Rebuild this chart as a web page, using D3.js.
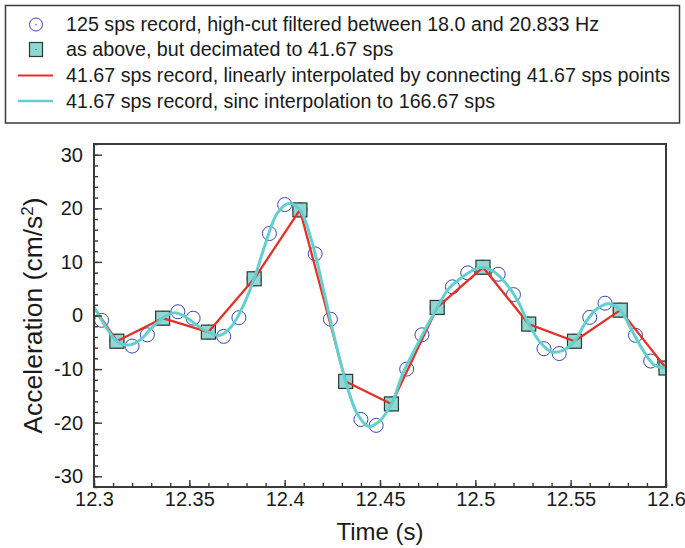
<!DOCTYPE html>
<html>
<head>
<meta charset="utf-8">
<script src="https://cdn.jsdelivr.net/npm/d3@7"></script>
<style>
  html, body { margin: 0; padding: 0; background: #fff; }
  svg { display: block; font-family: "Liberation Sans", Arial, Helvetica, sans-serif; }
</style>
</head>
<body>
<svg id="chart" width="685" height="548"></svg>
<script>
// 125 sps record, high-cut filtered (samples every 0.008 s from 12.304 s)
const rawTimes = d3.range(38).map(i => +(12.304 + 0.008 * i).toFixed(3));
const rawValues = [
  -0.9, -4.8, -5.7, -3.6, -0.5, 0.7, -0.5, -3.1, -3.9, -0.4,
  6.85, 15.3, 20.7, 19.7, 11.5, -0.7, -12.3, -19.4, -20.5, -16.5,
  -10.0, -3.6, 1.5, 5.35, 7.95, 9.0, 7.7, 3.9, -1.6, -6.2,
  -7.1, -4.8, -0.35, 2.3, 1.0, -3.7, -8.5, -9.8
];

// Same record decimated to 41.67 sps (every third sample)
const decTimes = [12.312, 12.336, 12.36, 12.384, 12.408, 12.432, 12.456,
                  12.48, 12.504, 12.528, 12.552, 12.576, 12.6];
const decValues = [-4.8, -0.5, -3.1, 6.85, 19.7, -12.3, -16.5,
                   1.5, 9.0, -1.6, -4.8, 1.0, -9.8];

// Preceding decimated sample, so the linear segment enters the frame at 12.3 s
const decLeadTime = 12.288;
const decLeadValue = 7.8;

// Sinc interpolation of the decimated record to 166.67 sps (0.006 s steps)
const sincTimes = d3.range(51).map(i => +(12.3 + 0.006 * i).toFixed(3));
const sincValues = [
  1.6, -2.0, -4.8, -5.5, -4.6, -2.4, -0.5, 0.5, -0.25, -1.8,
  -3.1, -3.7, -2.1, 1.6, 6.85, 13.5, 19.0, 20.9, 19.7, 14.1,
  5.35, -4.0, -12.3, -18.3, -20.7, -19.6, -16.5, -10.8, -6.5, -2.4,
  1.5, 5.0, 6.85, 8.3, 9.0, 8.1, 6.0, 2.9, -1.6, -5.0,
  -6.8, -6.5, -4.8, -1.2, 1.3, 2.2, 1.0, -2.7, -6.5, -9.3,
  -9.8
];

const xTicks = [12.3, 12.35, 12.4, 12.45, 12.5, 12.55, 12.6];
const xTickLabels = ["12.3", "12.35", "12.4", "12.45", "12.5", "12.55", "12.6"];
const yTicks = [-30, -20, -10, 0, 10, 20, 30];
const yTickLabels = ["-30", "-20", "-10", "0", "10", "20", "30"];

const legendLabels = [
  "125 sps record, high-cut filtered between 18.0 and 20.833 Hz",
  "as above, but decimated to 41.67 sps",
  "41.67 sps record, linearly interpolated by connecting 41.67 sps points",
  "41.67 sps record, sinc interpolation to 166.67 sps"
];

const C = {
  circle: "#3446b4",
  squareFill: "#8fd8d1",
  squareStroke: "#2c3836",
  red: "#e3312a",
  cyan: "#63d0cf",
  frame: "#3a3a3a",
  text: "#1a1a1a"
};

const svg = d3.select("#chart");
svg.append("rect").attr("width", 685).attr("height", 548).attr("fill", "#fff");

const plot = { left: 94, right: 666, top: 144, bottom: 487 };

const x = d3.scaleLinear().domain([12.3, 12.6]).range([plot.left, plot.right]);
const y = d3.scaleLinear().domain([-32, 32]).range([plot.bottom, plot.top]);

// ---- legend ----
const legend = svg.append("g");
legend.append("rect")
  .attr("x", 5.5).attr("y", 5.5).attr("width", 674).attr("height", 117.5)
  .attr("fill", "none").attr("stroke", C.frame).attr("stroke-width", 1.5);

const rowY = [24.5, 49.5, 75.5, 101];
const markX = 36;
legend.append("circle").attr("cx", markX).attr("cy", rowY[0]).attr("r", 6.5)
  .attr("fill", "none").attr("stroke", C.circle).attr("stroke-width", 1);
legend.append("circle").attr("cx", markX).attr("cy", rowY[0]).attr("r", 0.7).attr("fill", C.circle);
legend.append("rect").attr("x", markX - 6.5).attr("y", rowY[1] - 7).attr("width", 13).attr("height", 14)
  .attr("fill", C.squareFill).attr("stroke", C.squareStroke).attr("stroke-width", 1.2);
legend.append("circle").attr("cx", markX).attr("cy", rowY[1]).attr("r", 0.6).attr("fill", C.squareStroke);
legend.append("line").attr("x1", 18).attr("x2", 53).attr("y1", rowY[2]).attr("y2", rowY[2])
  .attr("stroke", C.red).attr("stroke-width", 2.2);
legend.append("line").attr("x1", 18).attr("x2", 53).attr("y1", rowY[3]).attr("y2", rowY[3])
  .attr("stroke", C.cyan).attr("stroke-width", 2.6);

legend.selectAll("text.leg").data(legendLabels).join("text")
  .attr("class", "leg")
  .attr("x", 66).attr("y", (d, i) => rowY[i])
  .attr("dy", "0.35em")
  .attr("font-size", 19.7)
  .attr("fill", C.text)
  .text(d => d);

// ---- plot area ----
const defs = svg.append("defs");
defs.append("clipPath").attr("id", "plotClip")
  .append("rect")
  .attr("x", plot.left).attr("y", plot.top)
  .attr("width", plot.right - plot.left).attr("height", plot.bottom - plot.top);

const data = svg.append("g").attr("clip-path", "url(#plotClip)");

// circles: 125 sps samples
data.append("g").selectAll("circle").data(rawTimes).join("circle")
  .attr("cx", d => x(d)).attr("cy", (d, i) => y(rawValues[i])).attr("r", 7)
  .attr("fill", "none").attr("stroke", C.circle).attr("stroke-width", 1);

// squares: decimated samples
data.append("g").selectAll("rect").data(decTimes).join("rect")
  .attr("x", d => x(d) - 7).attr("width", 14)
  .attr("y", (d, i) => y(decValues[i]) - 7).attr("height", 14)
  .attr("fill", C.squareFill).attr("stroke", C.squareStroke).attr("stroke-width", 1.2);

// red: straight segments between decimated samples
const redPts = [[decLeadTime, decLeadValue]].concat(decTimes.map((t, i) => [t, decValues[i]]));
data.append("path")
  .attr("d", d3.line().x(d => x(d[0])).y(d => y(d[1]))(redPts))
  .attr("fill", "none").attr("stroke", C.red).attr("stroke-width", 2.3)
  .attr("stroke-linejoin", "round");

// cyan: sinc-interpolated record
const cyanPts = sincTimes.map((t, i) => [t, sincValues[i]]);
data.append("path")
  .attr("d", d3.line().x(d => x(d[0])).y(d => y(d[1])).curve(d3.curveCatmullRom.alpha(0.5))(cyanPts))
  .attr("fill", "none").attr("stroke", C.cyan).attr("stroke-width", 3)
  .attr("stroke-linejoin", "round");

// ---- axes ----
const axisColor = C.frame;
const xMinor = d3.range(31).map(i => 12.3 + 0.01 * i);
const yMinor = d3.range(-32, 33, 2);

const gxMinor = svg.append("g").attr("transform", `translate(0,${plot.bottom})`)
  .call(d3.axisBottom(x).tickValues(xMinor).tickSize(-4).tickFormat(""));
const gx = svg.append("g").attr("transform", `translate(0,${plot.bottom})`)
  .call(d3.axisBottom(x).tickValues(xTicks).tickSize(-7).tickPadding(5)
    .tickFormat((d, i) => xTickLabels[i]));

const gyMinor = svg.append("g").attr("transform", `translate(${plot.left},0)`)
  .call(d3.axisLeft(y).tickValues(yMinor).tickSize(-4).tickFormat(""));
const gy = svg.append("g").attr("transform", `translate(${plot.left},0)`)
  .call(d3.axisLeft(y).tickValues(yTicks).tickSize(-8).tickPadding(11)
    .tickFormat((d, i) => yTickLabels[i]));

[gxMinor, gx, gyMinor, gy].forEach(g => {
  g.select(".domain").remove();
  g.selectAll(".tick line").attr("stroke", axisColor).attr("stroke-width", 1.4);
  g.selectAll(".tick text").attr("font-size", 20).attr("fill", C.text)
    .attr("font-family", "Liberation Sans, Arial, sans-serif");
});

// frame
svg.append("rect")
  .attr("x", plot.left).attr("y", plot.top)
  .attr("width", plot.right - plot.left).attr("height", plot.bottom - plot.top)
  .attr("fill", "none").attr("stroke", axisColor).attr("stroke-width", 2);

// axis titles
svg.append("text")
  .attr("x", (plot.left + plot.right) / 2).attr("y", 532)
  .attr("dy", "0.35em")
  .attr("text-anchor", "middle").attr("font-size", 24).attr("fill", C.text)
  .text("Time (s)");

const yTitle = svg.append("text")
  .attr("transform", `translate(33,${(plot.top + plot.bottom) / 2}) rotate(-90)`)
  .attr("text-anchor", "middle").attr("dy", "0.35em")
  .attr("font-size", 26.5).attr("fill", C.text);
yTitle.append("tspan").text("Acceleration (cm/s");
yTitle.append("tspan").attr("baseline-shift", "super").attr("font-size", 17).text("2");
yTitle.append("tspan").text(")");
</script>
</body>
</html>
